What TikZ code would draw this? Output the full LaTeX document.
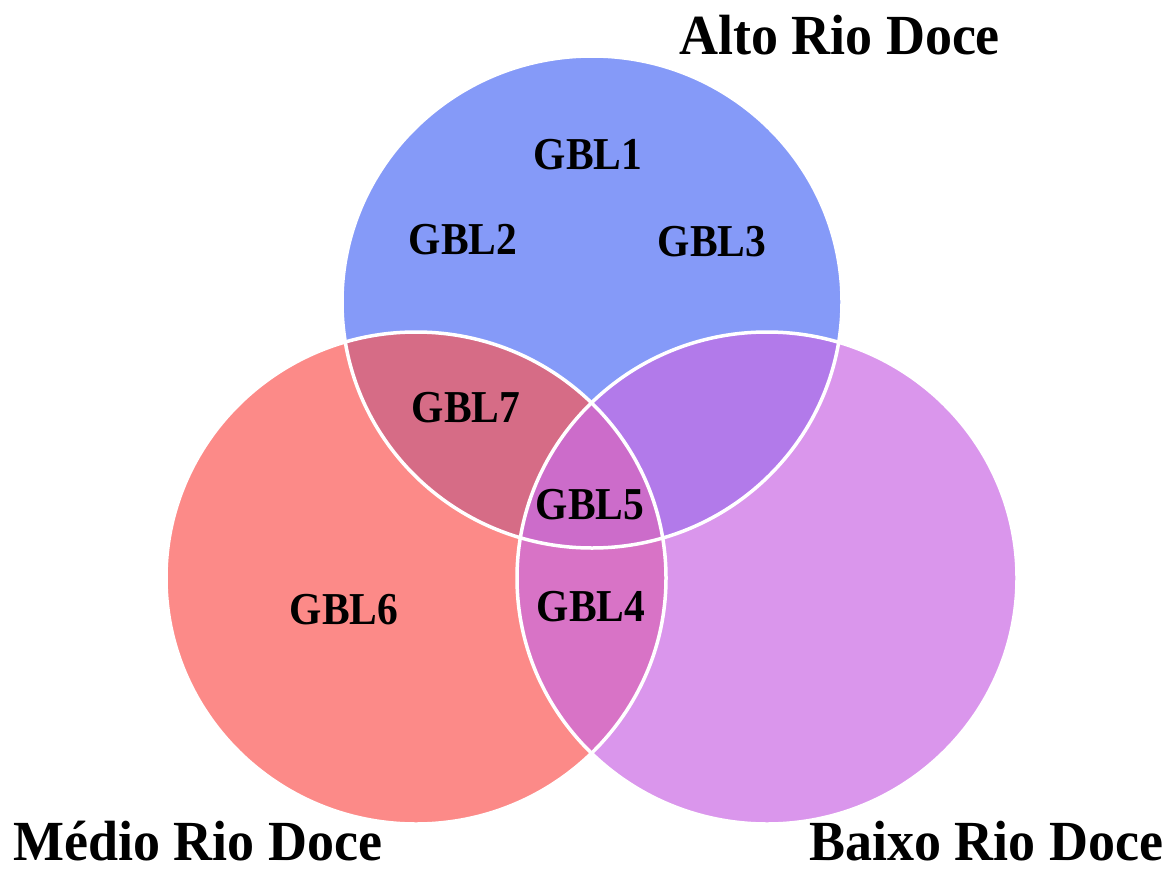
\documentclass[tikz,border=0pt]{standalone}
\usepackage{fontspec}
\setmainfont{Liberation Serif}
\definecolor{cR}{HTML}{FC8A88}
\definecolor{cB}{HTML}{859AF8}
\definecolor{cP}{HTML}{DA96EC}
\definecolor{cRB}{HTML}{D66C86}
\definecolor{cBP}{HTML}{B27AEA}
\definecolor{cRP}{HTML}{D873C6}
\definecolor{cC}{HTML}{CC6CCA}
\tikzset{
  lbl/.style={inner sep=0pt, font=\fontsize{41.5}{48}\selectfont\bfseries},
  ttl/.style={inner sep=0pt, anchor=base, font=\fontsize{54}{62}\selectfont\bfseries},
  rim/.style={draw=white, line width=3.5pt},
  venn/.style={x radius=250pt, y radius=246pt}
}
\newcommand{\tallA}[1]{\scalebox{1}[1.1]{#1}}
\newcommand{\tallB}[1]{\scalebox{1}[1.05]{#1}}
\begin{document}
\begin{tikzpicture}[x=1pt,y=-1pt]
\useasboundingbox (0,0) rectangle (1169,872);
\coordinate (cT) at (592,302);
\coordinate (cL) at (416,578);
\coordinate (cR) at (767,578);
% base fills
\fill[cR] (cL) ellipse [venn];
\fill[cB] (cT) ellipse [venn];
\fill[cP] (cR) ellipse [venn];
% pairwise overlaps
\begin{scope}
  \clip (cL) ellipse [venn];
  \fill[cRB] (cT) ellipse [venn];
\end{scope}
\begin{scope}
  \clip (cT) ellipse [venn];
  \fill[cBP] (cR) ellipse [venn];
\end{scope}
\begin{scope}
  \clip (cL) ellipse [venn];
  \fill[cRP] (cR) ellipse [venn];
\end{scope}
% triple overlap
\begin{scope}
  \clip (cL) ellipse [venn];
  \clip (cT) ellipse [venn];
  \fill[cC] (cR) ellipse [venn];
\end{scope}
% white rims
\draw[rim] (cT) ellipse [venn];
\draw[rim] (cL) ellipse [venn];
\draw[rim] (cR) ellipse [venn];
% labels
\node[lbl] (g1) at (588,155) {\tallA{GBL1}};
\node[lbl] (g2) at (463,240) {\tallA{GBL2}};
\node[lbl] (g3) at (712,242) {\tallA{GBL3}};
\node[lbl] (g7) at (466,408) {\tallA{GBL7}};
\node[lbl] (g5) at (590,505) {\tallA{GBL5}};
\node[lbl] (g4) at (591,607) {\tallA{GBL4}};
\node[lbl] (g6) at (344,610) {\tallA{GBL6}};
% titles
\node[ttl] (alto) at (839.5,55) {\tallB{Alto Rio Doce}};
\node[ttl] (medio) at (197.5,860) {\tallB{Médio Rio Doce}};
\node[ttl] (baixo) at (986,860) {\tallB{Baixo Rio Doce}};
\end{tikzpicture}
\end{document}
